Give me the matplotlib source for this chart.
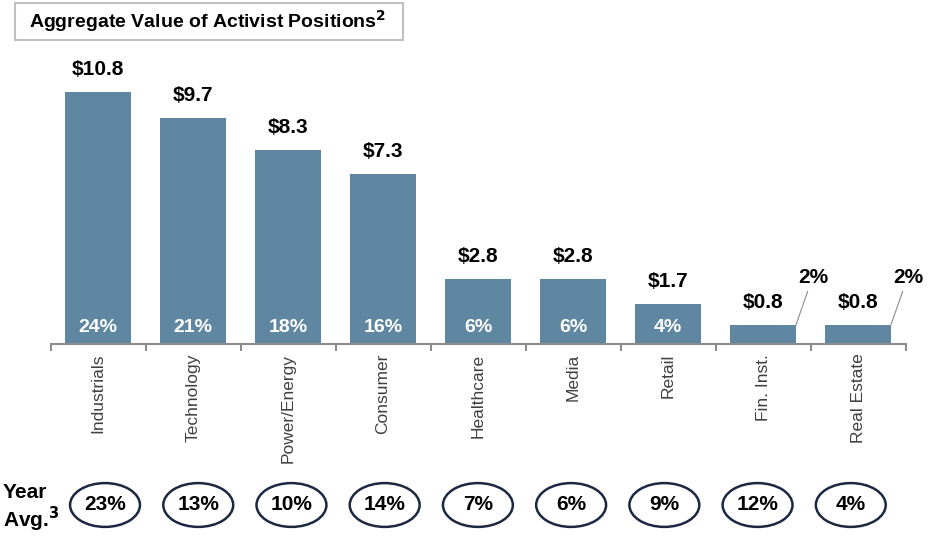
import matplotlib.pyplot as plt
from matplotlib.patches import Ellipse, Rectangle

sectors = ['Industrials', 'Technology', 'Power/Energy', 'Consumer', 'Healthcare',
           'Media', 'Retail', 'Fin. Inst.', 'Real Estate']
values = [10.8, 9.7, 8.3, 7.3, 2.8, 2.8, 1.7, 0.8, 0.8]
shares = ['24%', '21%', '18%', '16%', '6%', '6%', '4%', '2%', '2%']
avg3 = ['23%', '13%', '10%', '14%', '7%', '6%', '9%', '12%', '4%']

bar_color = '#5F87A1'
grey = '#8C8C8C'
navy = '#1C2841'

plt.rcParams['font.family'] = ['Liberation Sans Narrow', 'Liberation Sans', 'DejaVu Sans']

W, H = 930, 540
fig = plt.figure(figsize=(9.3, 5.4), dpi=100)

# main bar axes
ax = fig.add_axes([50.5 / W, 1 - 344 / H, 855 / W, 305 / H])
x = list(range(len(sectors)))
ax.bar(x, values, width=0.69, color=bar_color, zorder=2)
ax.set_xlim(-0.5, 8.5)
ax.set_ylim(0, 13.07)
for s in ['top', 'right', 'left']:
    ax.spines[s].set_visible(False)
ax.spines['bottom'].set_color(grey)
ax.spines['bottom'].set_linewidth(1.5)
ax.spines['bottom'].set_zorder(3)
ax.set_yticks([])
ax.set_xticks([i - 0.5 for i in range(len(sectors) + 1)])
ax.set_xticklabels([])
ax.tick_params(axis='x', length=5, width=1.5, color=grey)
ax.set_xticks(x, minor=True)
ax.set_xticklabels(sectors, minor=True, rotation=90, fontsize=12.5, color='#404040', va='top')
ax.tick_params(axis='x', which='minor', length=0, pad=7)

for i, v in enumerate(values):
    ax.text(i, v + 0.55, f'${v:.1f}', ha='center', va='bottom', fontsize=15, fontweight='bold')
    if i < 7:
        ax.text(i, 0.72, shares[i], ha='center', va='center', fontsize=14,
                fontweight='bold', color='white')
    else:
        # leader line to label outside the bar
        ax.plot([i + 0.345, i + 0.47], [v, 2.25], color=grey, lw=0.8)
        ax.text(i + 0.53, 2.45, shares[i], ha='center', va='bottom', fontsize=15,
                fontweight='bold')

# title box
fig.patches.append(Rectangle((15 / W, 1 - 40 / H), 388 / W, 37 / H, transform=fig.transFigure,
                             facecolor='white', edgecolor='#BFBFBF', lw=1.5))
fig.text(208 / W, 1 - 21 / H, r'Aggregate Value of Activist Positions$^{\mathbf{2}}$',
         ha='center', va='center', fontsize=14, fontweight='bold')

# bottom row of averages
ax2 = fig.add_axes([58.4 / W, 1 - 535 / H, 839 / W, 60 / H])
ax2.set_xlim(-0.5, 8.5)
ax2.set_ylim(0, 1)
ax2.axis('off')
for i, a in enumerate(avg3):
    ax2.add_patch(Ellipse((i, 0.5), 0.75, 0.73, facecolor='white', edgecolor=navy, lw=1.8))
    ax2.text(i, 0.5, a, ha='center', va='center', fontsize=15, fontweight='bold')

fig.text(3 / W, 1 - 492 / H, 'Year', ha='left', va='center', fontsize=15, fontweight='bold')
fig.text(3 / W, 1 - 519 / H, r'Avg.$^{\mathbf{3}}$', ha='left', va='center', fontsize=15,
         fontweight='bold')

fig.savefig('out.png', dpi=100, facecolor='white')
